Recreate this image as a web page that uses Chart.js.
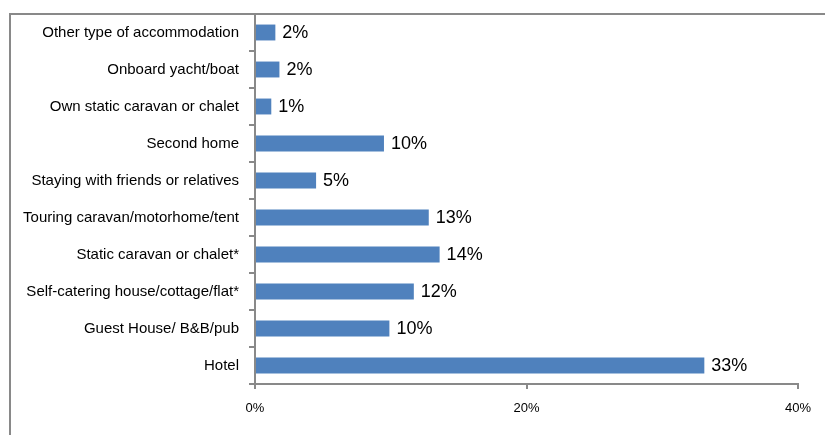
<!DOCTYPE html>
<html>
<head>
<meta charset="utf-8">
<script src="https://cdn.jsdelivr.net/npm/chart.js@4/dist/chart.umd.min.js"></script>
<style>
  html, body { margin: 0; padding: 0; background: #fff; }
  #wrap { width: 825px; height: 435px; }
</style>
</head>
<body>
<div id="wrap"><canvas id="accomChart"></canvas></div>
<script>
// accommodation types, top to bottom
const categories = [
  'Other type of accommodation',
  'Onboard yacht/boat',
  'Own static caravan or chalet',
  'Second home',
  'Staying with friends or relatives',
  'Touring caravan/motorhome/tent',
  'Static caravan or chalet*',
  'Self-catering house/cottage/flat*',
  'Guest House/ B&B/pub',
  'Hotel'
];
// share of respondents (%)
const shares = [1.5, 1.8, 1.2, 9.5, 4.5, 12.8, 13.6, 11.7, 9.9, 33.1];
const xTicks = [0, 20, 40];

const FONT = "'Liberation Sans', Arial, sans-serif";
const GREY = '#898989';

// outer frame line (top + left edge)
const framePlugin = {
  id: 'frame',
  beforeDraw(chart) {
    const ctx = chart.ctx;
    ctx.save();
    ctx.strokeStyle = GREY;
    ctx.lineWidth = 2;
    ctx.beginPath();
    ctx.moveTo(10, chart.height);
    ctx.lineTo(10, 14);
    ctx.lineTo(chart.width, 14);
    ctx.stroke();
    ctx.restore();
  }
};

// percentage label at the end of each bar
const valueLabels = {
  id: 'valueLabels',
  afterDatasetsDraw(chart) {
    const ctx = chart.ctx;
    const meta = chart.getDatasetMeta(0);
    ctx.save();
    ctx.font = '18px ' + FONT;
    ctx.fillStyle = '#000';
    ctx.textAlign = 'left';
    ctx.textBaseline = 'middle';
    meta.data.forEach((bar, i) => {
      ctx.fillText(Math.round(shares[i]) + '%', bar.x + 7, bar.y + 1);
    });
    ctx.restore();
  }
};

new Chart('accomChart', {
  type: 'bar',
  data: {
    labels: categories,
    datasets: [{
      data: shares,
      backgroundColor: '#4F81BD',
      borderWidth: 0,
      barPercentage: 0.43,
      categoryPercentage: 1
    }]
  },
  options: {
    indexAxis: 'y',
    responsive: true,
    maintainAspectRatio: false,
    animation: false,
    layout: { padding: { top: 14, right: 27, left: 0, bottom: 0 } },
    plugins: {
      legend: { display: false },
      tooltip: { enabled: false }
    },
    scales: {
      x: {
        min: 0,
        max: 40,
        afterBuildTicks(scale) { scale.ticks = xTicks.map(v => ({ value: v })); },
        afterFit(scale) {
          scale.height = 51;
          scale.paddingLeft = 0;
          scale.paddingRight = 0;
        },
        ticks: {
          padding: 12,
          color: '#000',
          font: { family: FONT, size: 13 },
          callback: v => v + '%'
        },
        grid: { drawOnChartArea: false, drawTicks: true, tickLength: 5, color: GREY, lineWidth: 2 },
        border: { color: GREY, width: 2 }
      },
      y: {
        afterFit(scale) {
          scale.width = 255;
          scale.paddingTop = 0;
          scale.paddingBottom = 0;
        },
        ticks: {
          padding: 10,
          color: '#000',
          font: { family: FONT, size: 15 }
        },
        grid: { offset: true, drawOnChartArea: false, drawTicks: true, tickLength: 6, color: GREY, lineWidth: 2 },
        border: { color: GREY, width: 2 }
      }
    }
  },
  plugins: [framePlugin, valueLabels]
});
</script>
</body>
</html>
